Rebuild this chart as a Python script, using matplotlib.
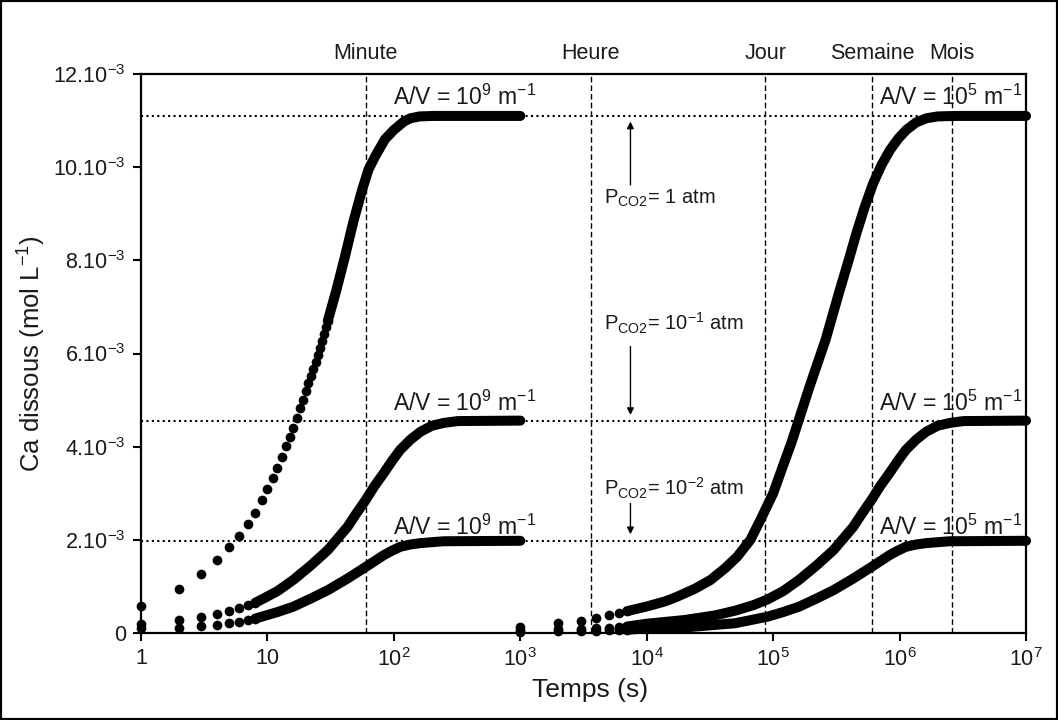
import matplotlib
matplotlib.use("Agg")
import matplotlib.pyplot as plt
from matplotlib.patches import Rectangle

plt.rcParams['font.family'] = ['Liberation Sans', 'DejaVu Sans']
plt.rcParams['mathtext.fontset'] = 'custom'
plt.rcParams['mathtext.rm'] = 'Liberation Sans'
plt.rcParams['mathtext.it'] = 'Liberation Sans:italic'

# ---- data (time in s, Ca in mol/L * 1e3) ----
# A/V = 1e9 m-1 : separate dots, then dense part
left_top_dot_t = [1, 2, 3, 4, 5, 6, 7, 8, 9, 10, 11, 12, 13, 14, 15, 16, 17, 18, 19, 20,
                  21, 22, 23, 24, 25, 26, 27, 28, 29, 30]
left_top_dot_ca = [0.58, 0.94, 1.26, 1.56, 1.84, 2.09, 2.35, 2.58, 2.85, 3.10, 3.32, 3.55,
                   3.77, 4.01, 4.21, 4.41, 4.62, 4.82, 5.01, 5.19, 5.37, 5.52, 5.67, 5.82,
                   5.97, 6.12, 6.27, 6.42, 6.56, 6.70]
left_top_t = [30, 35, 41, 48, 56, 63, 71, 85, 100, 120, 135, 160, 205, 1000]
left_top_ca = [6.70, 7.35, 8.08, 8.85, 9.51, 9.95, 10.23, 10.60, 10.80, 10.98, 11.05,
               11.09, 11.10, 11.10]

left_mid_dot_t = [1, 2, 3, 4, 5, 6, 7, 8]
left_mid_dot_ca = [0.20, 0.28, 0.34, 0.40, 0.48, 0.54, 0.60, 0.65]
left_mid_t = [8, 9, 12, 16, 22, 30, 43, 50, 60, 70, 83, 97, 112, 135, 162, 200, 248, 320, 1000]
left_mid_ca = [0.65, 0.72, 0.90, 1.14, 1.45, 1.78, 2.28, 2.55, 2.86, 3.15, 3.43, 3.70,
               3.93, 4.15, 4.32, 4.45, 4.51, 4.55, 4.56]

left_bot_dot_t = [1, 2, 3, 4, 5, 6, 7, 8]
left_bot_dot_ca = [0.10, 0.10, 0.15, 0.17, 0.21, 0.23, 0.28, 0.31]
left_bot_t = [8, 9, 12, 16, 22, 30, 43, 60, 83, 97, 112, 135, 162, 200, 248, 1000]
left_bot_ca = [0.31, 0.35, 0.45, 0.565, 0.74, 0.92, 1.17, 1.42, 1.67, 1.77, 1.85, 1.90,
               1.93, 1.95, 1.97, 1.98]

# A/V = 1e5 m-1
right_dot_t = [1000, 2000, 3000, 4000, 5000, 6000, 7000]
right_top_dot_ca = [0.13, 0.21, 0.26, 0.33, 0.38, 0.43, 0.47]
right_mid_dot_ca = [0.07, 0.08, 0.09, 0.10, 0.11, 0.12, 0.14]
right_bot_dot_ca = [0.03, 0.04, 0.05, 0.05, 0.06, 0.06, 0.07]

right_top_t = [7e3, 1e4, 1.4e4, 1.74e4, 2.4e4, 3.2e4, 4.2e4, 5.2e4, 6.6e4, 8e4, 1e5, 1.2e5,
               1.4e5, 1.65e5, 1.94e5, 2.6e5, 3.36e5, 3.9e5, 4.55e5, 5.3e5, 6.17e5, 7.2e5,
               8.4e5, 9.8e5, 1.13e6, 1.35e6, 1.63e6, 2e6, 2.8e6, 1e7]
right_top_ca = [0.47, 0.57, 0.68, 0.78, 0.95, 1.14, 1.40, 1.64, 2.0, 2.45, 3.0, 3.6,
                4.1, 4.7, 5.29, 6.3, 7.36, 7.95, 8.58, 9.15, 9.65, 10.05,
                10.37, 10.62, 10.80, 10.96, 11.05, 11.09, 11.10, 11.10]
right_mid_t = [7e3, 1e4, 2e4, 3.5e4, 5e4, 7e4, 9e4, 1.2e5, 1.6e5, 2.2e5, 3e5, 4.3e5, 5e5,
               6e5, 7e5, 8.3e5, 9.7e5, 1.12e6, 1.35e6, 1.62e6, 2e6, 2.5e6, 3.2e6, 1e7]
right_mid_ca = [0.14, 0.20, 0.28, 0.38, 0.48, 0.60, 0.72, 0.90, 1.14, 1.45, 1.78, 2.28, 2.55,
                2.86, 3.15, 3.43, 3.70, 3.93, 4.15, 4.32, 4.45, 4.51, 4.55, 4.56]
right_bot_t = [7e3, 1e4, 2e4, 5e4, 9e4, 1.2e5, 1.6e5, 2.2e5, 3e5, 4.3e5, 6e5, 8.3e5, 9.7e5,
               1.12e6, 1.35e6, 1.62e6, 2e6, 2.5e6, 1e7]
right_bot_ca = [0.07, 0.10, 0.12, 0.21, 0.35, 0.45, 0.565, 0.74, 0.92, 1.17, 1.42, 1.67, 1.77,
                1.85, 1.90, 1.93, 1.95, 1.97, 1.98]

plateaus = [11.10, 4.56, 1.98]
time_marks = [60, 3600, 86400, 604800, 2592000]
time_names = ['Minute', 'Heure', 'Jour', 'Semaine', 'Mois']

x_ticks = [1, 10, 1e2, 1e3, 1e4, 1e5, 1e6, 1e7]
x_ticklabels = ['1', '10', r'10$^{2}$', r'10$^{3}$', r'10$^{4}$', r'10$^{5}$',
                r'10$^{6}$', r'10$^{7}$']
y_ticks = [0, 2, 4, 6, 8, 10, 12]
y_ticklabels = ['0', r'2.10$^{-3}$', r'4.10$^{-3}$', r'6.10$^{-3}$', r'8.10$^{-3}$',
                r'10.10$^{-3}$', r'12.10$^{-3}$']

txt = '#1a1a1a'
ink = '#000000'
ms = 7.0
lw_curve = 7.2

fig = plt.figure(figsize=(10.58, 7.2), dpi=100)
ax = fig.add_axes([0.1333, 0.1208, 0.8365, 0.7764])
ax.set_xscale('log')
ax.set_xlim(1, 1e7)
ax.set_ylim(0, 12)

# reference lines
for lev in plateaus:
    ax.axhline(lev, color=ink, lw=1.5, ls=(0, (1, 1.6)), zorder=1)
for tm, name in zip(time_marks, time_names):
    ax.axvline(tm, color=ink, lw=1.0, ls=(0, (4, 2.2)), zorder=1)
    ax.text(tm, 1.036, name, transform=ax.get_xaxis_transform(), ha='center',
            va='center', fontsize=15.5, color=txt)

# dense parts of curves
for t, ca in [(left_top_t, left_top_ca), (left_mid_t, left_mid_ca), (left_bot_t, left_bot_ca),
              (right_top_t, right_top_ca), (right_mid_t, right_mid_ca),
              (right_bot_t, right_bot_ca)]:
    ax.plot(t, ca, color=ink, lw=lw_curve, solid_capstyle='round',
            solid_joinstyle='round', zorder=3, clip_on=False)

# separate dots
for t, ca in [(left_top_dot_t, left_top_dot_ca), (left_mid_dot_t, left_mid_dot_ca),
              (left_bot_dot_t, left_bot_dot_ca), (right_dot_t, right_top_dot_ca),
              (right_dot_t, right_mid_dot_ca), (right_dot_t, right_bot_dot_ca)]:
    ax.plot(t, ca, 'o', color=ink, ms=ms, mew=0, zorder=3, clip_on=False)

# labels A/V
for y in [11.51, 4.94, 2.28]:
    ax.text(361, y, r'A/V = 10$^{9}$ m$^{-1}$', ha='center', va='center',
            fontsize=16.5, color=txt, zorder=4)
    ax.text(9.4e6, y, r'A/V = 10$^{5}$ m$^{-1}$', ha='right', va='center',
            fontsize=16.5, color=txt, zorder=4)

# P_CO2 annotations
ax.text(4570, 9.33, r'P$_{\mathrm{CO2}}$= 1 atm', ha='left', va='center',
        fontsize=14.5, color=txt)
ax.text(4570, 6.65, r'P$_{\mathrm{CO2}}$= 10$^{-1}$ atm', ha='left', va='center',
        fontsize=14.5, color=txt)
ax.text(4570, 3.10, r'P$_{\mathrm{CO2}}$= 10$^{-2}$ atm', ha='left', va='center',
        fontsize=14.5, color=txt)
arrow = dict(arrowstyle='-|>', color=ink, lw=1.0, mutation_scale=10, shrinkA=0, shrinkB=0)
ax.annotate('', xy=(7430, 10.98), xytext=(7430, 9.62), arrowprops=arrow)
ax.annotate('', xy=(7430, 4.68), xytext=(7430, 6.15), arrowprops=arrow)
ax.annotate('', xy=(7430, 2.12), xytext=(7430, 2.78), arrowprops=arrow)

# axes styling
ax.set_xticks(x_ticks)
ax.set_xticklabels(x_ticklabels)
ax.xaxis.set_minor_locator(matplotlib.ticker.NullLocator())
ax.set_yticks(y_ticks)
ax.set_yticklabels(y_ticklabels)
ax.tick_params(axis='both', which='major', direction='out', length=6, width=1.5,
               labelsize=15.5, labelcolor=txt, top=False, right=False, pad=5)
for sp in ax.spines.values():
    sp.set_linewidth(1.6)
    sp.set_color(ink)

ax.set_xlabel('Temps (s)', fontsize=19, color=txt)
ax.xaxis.set_label_coords(0.507, -0.08)
ax.set_ylabel(r'Ca dissous (mol L$^{-1}$)', fontsize=18.5, color=txt)
ax.yaxis.set_label_coords(-0.105, 0.5)

fig.add_artist(Rectangle((0, 0), 1, 1, transform=fig.transFigure, fill=False,
                         edgecolor=ink, lw=3))

fig.savefig('out.png', dpi=100)
